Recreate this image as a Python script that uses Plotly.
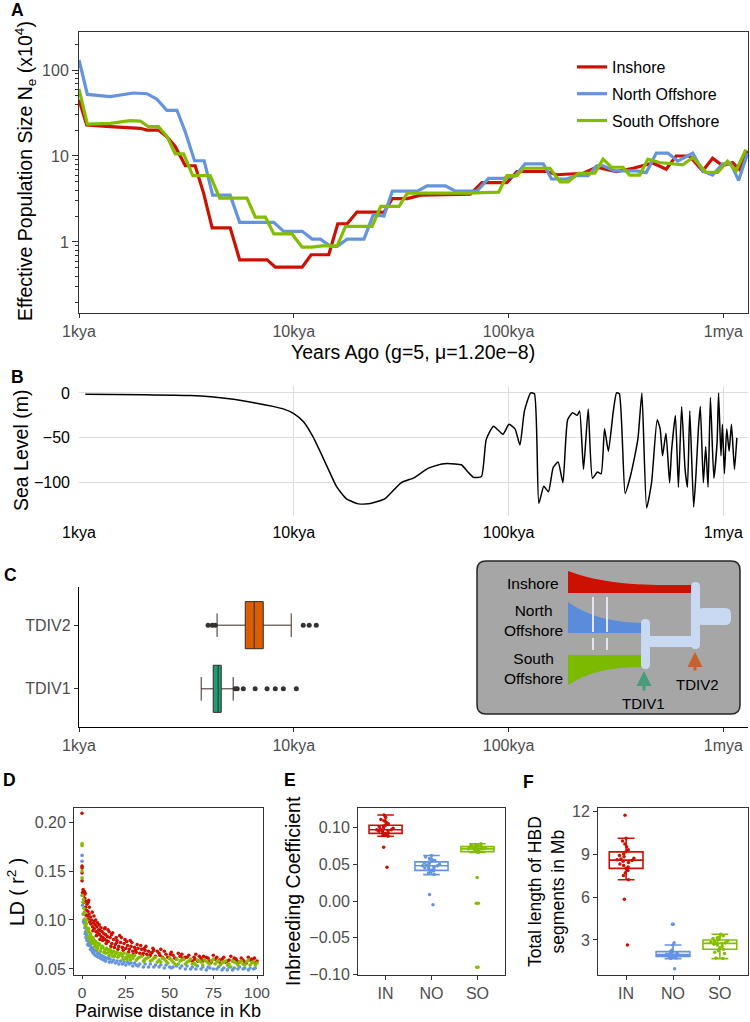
import plotly.graph_objects as go

W, H = 750, 1022
FONT = "Liberation Sans, Arial, Helvetica, sans-serif"
TICKC = "#4D4D4D"
C_IN, C_NO, C_SO = "#CC1100", "#6495DC", "#84BD00"
TF = 16      # tick label size
AT = 19.5    # axis title size

# ---------------- Panel A : PSMC effective population size (x10^4) ----------------
psmc_labels = ["Inshore", "North Offshore", "South Offshore"]
ne_in_years = [1000, 1086, 1396, 1928, 2070, 2344, 2564, 2805, 3126, 3475, 3802, 4169, 5058, 5598,
               7516, 8204, 10940, 12050, 14550, 16030, 17740, 19680, 25350, 26300, 28770, 33810,
               38900, 66370, 75160, 98170, 109400, 150700, 167500, 222800, 257000, 317700, 380200,
               469900, 542000, 602600, 695000, 801700, 891300, 993100, 1104000, 1186000, 1297000]
ne_in_vals = [45, 23, 22, 21, 20, 20, 16.8, 12.9, 7.7, 7.7, 3.7, 1.46, 1.46, 0.62,
              0.62, 0.51, 0.51, 0.71, 0.71, 1.63, 1.63, 2.23, 2.23, 2.2, 3.2, 3.2,
              3.5, 3.6, 4.9, 4.9, 6.6, 6.6, 6.05, 6.3, 7.4, 6.6, 7.2,
              8.3, 7.0, 10, 10, 6.7, 9.4, 7.7, 8.4, 7.0, 11.5]
ne_no_years = [1000, 1094, 1396, 1791, 2070, 2301, 2564, 2858, 3126, 3451, 3828, 4188, 5058, 5598,
               8072, 8974, 10940, 12190, 13300, 14830, 15920, 17740, 21230, 23440, 26300, 28770,
               37580, 41780, 50820, 56620, 71290, 80720, 94840, 107400, 119400, 145200, 158500,
               186200, 207500, 235000, 257000, 275400, 312600, 393600, 437500, 487500, 552100,
               613800, 721100, 801700, 891300, 993100, 1086000, 1178000, 1297000]
ne_no_vals = [131, 52, 49, 54, 53, 46, 34, 34, 19, 8.8, 8.8, 3.5, 3.5, 1.69,
              1.69, 1.33, 1.33, 1.08, 1.08, 0.89, 0.89, 1.08, 1.08, 2.07, 2.0, 3.9,
              3.9, 4.5, 4.5, 3.9, 3.9, 5.5, 5.5, 5.9, 8.1, 8.1, 5.4,
              5.4, 5.9, 5.9, 7.7, 7.7, 6.7, 6.7, 6.4, 10.8, 10.8,
              8.7, 10.8, 6.7, 6.0, 8.1, 8.1, 5.2, 10.8]
ne_so_years = [1000, 1094, 1396, 1730, 1928, 2104, 2344, 2564, 2805, 3069, 3388, 4083, 4519, 6053,
               6622, 7379, 8072, 9817, 10940, 12190, 13550, 15920, 17420, 23170, 25410, 30900,
               33810, 64120, 89950, 98170, 109400, 117500, 156000, 173800, 189700, 211300, 252300,
               275400, 301300, 341200, 366400, 408300, 445700, 504700, 647100, 721100, 831800,
               941900, 1047000, 1146000, 1274000]
ne_so_vals = [60, 23.5, 24, 25.8, 25.5, 22, 22, 17, 10.6, 10.6, 5.9, 5.9, 3.24, 3.24,
              1.95, 1.95, 1.24, 1.24, 0.87, 0.87, 0.9, 0.9, 1.52, 1.52, 2.6, 2.6,
              3.7, 3.7, 3.8, 5.9, 5.9, 7.2, 7.2, 5.0, 5.0, 6.3, 6.3,
              9.2, 7.4, 7.4, 6.0, 6.0, 9.2, 8.4, 7.9, 9.6, 6.45,
              6.45, 8.7, 6.7, 11.9]

time_tickvals = [1000, 10000, 100000, 1000000]
time_ticktext = ["1kya", "10kya", "100kya", "1mya"]

# ---------------- Panel B : sea level (m) ----------------
sl_years = [1070, 2000, 3300, 5000, 6900, 8000, 9000, 10000, 11100, 12300, 14300, 15800, 17600,
            20000, 22700, 26500, 31600, 36300, 42200, 49000, 56200, 60300, 65300, 68700, 74800,
            78700, 85100, 94200, 100500, 107200, 113000, 118600, 126800, 132000, 138400, 146000,
            153500, 161400, 170200, 179100, 188400, 198600, 208900, 214300, 223400, 235000,
            246000, 259400, 269800, 279900, 291700, 306900, 318400, 328100, 349100, 367300,
            387300, 400900, 417800, 439500, 463400, 492000, 508200, 521200, 540800, 562300,
            574100, 598400, 618000, 639700, 663700, 680800, 698200, 727800, 746400, 765600,
            781600, 807200, 827900, 849200, 871000, 903600, 935400, 950600, 975000, 990800,
            1011600, 1037600, 1064100, 1091400, 1127200, 1156100]
sl_m = [-1.5, -2, -3, -6.5, -12, -15, -18, -23, -32, -49, -82, -104, -118,
        -123.5, -123, -118, -100, -94.5, -84, -79, -79, -80, -89, -94, -93,
        -52, -37, -46, -35, -40, -58, -20, 0, -1, -123, -104,
        -110, -83, -77, -100, -30, -22, -25, -20, -85, -18,
        -95, -88, -90, -40, -65, -22, 0, -1, -112, -95,
        -70, -50, 0, -128, -100, -30, -40, -70, -45, -100,
        -65, -25, -105, -15, -85, -105, -20, -127, -90, -40,
        -15, -100, -60, -105, -5, -95, -55, 0, -70, -35,
        -90, -40, -65, -35, -85, -50]

# ---------------- Panel C : divergence times ----------------
tdiv_names = ["TDIV2", "TDIV1"]
tdiv_colors = ["#D95F02", "#1B9E77"]
tdiv_q1 = [5945, 4217]
tdiv_median = [6545, 4446]
tdiv_q3 = [7210, 4594]
tdiv_low = [4395, 3707]
tdiv_high = [9730, 5223]
tdiv2_outliers = [3990, 4170, 4305, 11070, 11800, 12730]
tdiv1_outliers = [5335, 5455, 5820, 6610, 7510, 8200, 8940, 10280]

# ---------------- Panel D : LD decay (distance kb, r2) ----------------
ld_in = [(0, 0.209), (0, 0.155), (0, 0.153), (0, 0.148), (0, 0.140), (0.3, 0.128), (0.6, 0.131),
         (1, 0.125), (1, 0.118), (1.3, 0.129), (1.6, 0.122), (2, 0.113), (2, 0.119), (2.4, 0.110),
         (2.8, 0.116), (3, 0.104), (3.3, 0.109), (3.6, 0.101), (4, 0.106), (4.4, 0.098), (4.8, 0.103),
         (5, 0.096), (5.5, 0.100), (6, 0.093), (6.5, 0.097), (7, 0.091), (7.5, 0.095), (8, 0.088),
         (8.5, 0.093), (9, 0.087), (9.5, 0.090), (10, 0.085), (10.5, 0.089), (11, 0.083), (11.5, 0.088),
         (12, 0.082), (12.5, 0.086), (13, 0.080), (13.5, 0.085), (14, 0.079), (14.5, 0.083), (15, 0.078),
         (16, 0.082), (17, 0.076), (18, 0.080), (19, 0.075), (20, 0.079), (21, 0.073), (22, 0.077),
         (23, 0.072), (24, 0.076), (25, 0.071), (26, 0.074), (27, 0.070), (28, 0.073), (29, 0.068),
         (30, 0.072), (31, 0.067), (32, 0.071), (33, 0.066), (34, 0.070), (35, 0.066), (36, 0.069),
         (37, 0.065), (38, 0.068), (39, 0.064), (40, 0.067), (42, 0.063), (44, 0.066), (46, 0.062),
         (48, 0.065), (50, 0.061), (52, 0.064), (54, 0.060), (56, 0.063), (58, 0.060), (60, 0.062),
         (62, 0.059), (64, 0.062), (66, 0.058), (68, 0.061), (70, 0.059), (72, 0.061), (74, 0.057),
         (76, 0.060), (78, 0.058), (80, 0.060), (82, 0.057), (84, 0.059), (86, 0.058), (88, 0.060),
         (90, 0.057), (92, 0.059), (94, 0.056), (96, 0.059), (98, 0.057), (100, 0.058),
         (15.5, 0.088), (21.5, 0.084), (27.5, 0.079), (33.5, 0.074), (45, 0.070), (55, 0.066),
         (65, 0.065), (75, 0.064), (85, 0.063), (95, 0.062), (7.2, 0.099), (19.5, 0.082), (41, 0.069),
         (3.5, 0.118), (4.2, 0.113), (5.8, 0.108), (6.8, 0.104), (7.8, 0.100), (8.8, 0.097),
         (9.8, 0.095), (10.8, 0.092), (11.8, 0.079), (12.8, 0.091), (13.8, 0.076), (14.8, 0.090),
         (16.5, 0.073), (17.5, 0.087), (18.5, 0.072), (20.5, 0.070), (22.5, 0.082), (23.5, 0.069),
         (24.5, 0.080), (26.5, 0.067), (28.5, 0.077), (29.5, 0.065), (31.5, 0.075), (34.5, 0.064),
         (36.5, 0.073), (38.5, 0.063), (40.5, 0.071), (43, 0.068), (47, 0.068), (49, 0.062),
         (51, 0.067), (53, 0.061), (57, 0.065), (59, 0.062), (61, 0.064), (63, 0.058), (67, 0.063),
         (69, 0.058), (71, 0.062), (73, 0.058), (77, 0.062), (79, 0.056), (81, 0.062), (83, 0.058),
         (87, 0.061), (89, 0.056), (91, 0.061), (93, 0.057), (97, 0.060), (99, 0.056), (2.2, 0.105),
         (1.8, 0.127), (3.8, 0.120), (6.2, 0.089), (8.2, 0.084), (10.2, 0.080), (13.2, 0.092),
         (16.8, 0.085), (19.8, 0.077), (25.5, 0.078), (30.5, 0.069), (35.5, 0.071), (39.5, 0.066),
         (44.5, 0.064), (50.5, 0.065), (57.5, 0.061), (64.5, 0.060), (69.5, 0.063), (78.5, 0.059),
         (88.5, 0.058), (98.5, 0.061)]
ld_no = [(0, 0.166), (0, 0.160), (0, 0.125), (0.3, 0.115), (0.6, 0.106), (1, 0.100), (1.3, 0.097),
         (1.6, 0.092), (2, 0.088), (2.5, 0.085), (3, 0.082), (3.5, 0.079), (4, 0.077), (4.5, 0.075),
         (5, 0.073), (6, 0.071), (7, 0.069), (8, 0.068), (9, 0.066), (10, 0.065), (11, 0.064),
         (12, 0.063), (13, 0.062), (14, 0.061), (15, 0.061), (16, 0.060), (18, 0.059), (20, 0.058),
         (22, 0.058), (24, 0.057), (26, 0.057), (28, 0.056), (30, 0.056), (33, 0.055), (36, 0.055),
         (39, 0.055), (42, 0.054), (45, 0.054), (48, 0.054), (51, 0.051), (54, 0.053), (57, 0.053),
         (60, 0.053), (63, 0.052), (66, 0.053), (69, 0.052), (72, 0.052), (75, 0.050), (78, 0.052),
         (81, 0.051), (84, 0.052), (87, 0.051), (90, 0.052), (93, 0.051), (96, 0.051), (99, 0.051),
         (3.2, 0.075), (6.5, 0.066), (11.5, 0.060), (17, 0.057), (23, 0.055), (31, 0.054),
         (41, 0.052), (52, 0.052), (62, 0.050), (73, 0.051), (83, 0.049), (92, 0.050),
         (0.8, 0.098), (1.8, 0.086), (2.2, 0.082), (2.8, 0.079), (3.8, 0.074), (4.8, 0.070),
         (5.5, 0.069), (6.2, 0.067), (7.5, 0.064), (8.5, 0.063), (9.5, 0.062), (10.5, 0.061),
         (12.5, 0.059), (13.5, 0.058), (15.5, 0.057), (19, 0.056), (21, 0.055), (25, 0.054),
         (27, 0.055), (29, 0.053), (32, 0.053), (35, 0.052), (38, 0.052), (44, 0.052), (47, 0.051),
         (50, 0.052), (56, 0.051), (59, 0.050), (65, 0.050), (68, 0.050), (71, 0.049), (77, 0.050),
         (80, 0.049), (86, 0.049), (89, 0.050), (95, 0.049), (98, 0.050)]
ld_so = [(0, 0.178), (0, 0.176), (0, 0.150), (0, 0.143), (0.3, 0.125), (0.6, 0.118), (1, 0.112),
         (1, 0.106), (1.3, 0.108), (1.6, 0.101), (2, 0.098), (2, 0.094), (2.4, 0.096), (2.8, 0.090),
         (3, 0.092), (3.5, 0.087), (4, 0.088), (4.5, 0.083), (5, 0.084), (5.5, 0.080), (6, 0.081),
         (6.5, 0.077), (7, 0.079), (7.5, 0.075), (8, 0.077), (9, 0.073), (10, 0.075), (11, 0.071),
         (12, 0.072), (13, 0.069), (14, 0.071), (15, 0.067), (16, 0.070), (17, 0.066), (18, 0.068),
         (19, 0.065), (20, 0.067), (21, 0.064), (22, 0.066), (23, 0.063), (24, 0.066), (25, 0.062),
         (26, 0.065), (27, 0.062), (28, 0.064), (29, 0.061), (30, 0.064), (32, 0.061), (34, 0.063),
         (36, 0.060), (38, 0.062), (40, 0.059), (42, 0.062), (44, 0.059), (46, 0.061), (48, 0.058),
         (50, 0.061), (52, 0.057), (54, 0.060), (56, 0.058), (58, 0.060), (60, 0.057), (62, 0.060),
         (64, 0.056), (66, 0.059), (68, 0.057), (70, 0.059), (72, 0.056), (74, 0.058), (76, 0.055),
         (78, 0.058), (80, 0.056), (82, 0.058), (84, 0.055), (86, 0.058), (88, 0.056), (90, 0.057),
         (92, 0.055), (94, 0.057), (96, 0.054), (98, 0.057), (100, 0.056),
         (5.2, 0.077), (8.5, 0.071), (12.5, 0.067), (18.5, 0.063), (25.5, 0.060), (35, 0.058),
         (45, 0.057), (55, 0.055), (65, 0.054), (75, 0.060), (85, 0.052), (95, 0.059),
         (0.8, 0.121), (1.8, 0.095), (2.6, 0.100), (3.3, 0.083), (3.8, 0.091), (4.3, 0.080),
         (4.8, 0.086), (5.7, 0.076), (6.3, 0.082), (7.3, 0.073), (7.8, 0.078), (8.8, 0.070),
         (9.5, 0.076), (10.5, 0.068), (11.5, 0.073), (13.5, 0.066), (14.5, 0.070), (15.5, 0.064),
         (16.5, 0.068), (17.5, 0.063), (19.5, 0.067), (20.5, 0.062), (22.5, 0.065), (23.5, 0.060),
         (26.5, 0.063), (27.5, 0.059), (29.5, 0.063), (31, 0.059), (33, 0.062), (35.5, 0.058),
         (37, 0.061), (39, 0.058), (41, 0.061), (43, 0.057), (47, 0.060), (49, 0.056), (51, 0.059),
         (53, 0.055), (57, 0.059), (59, 0.055), (61, 0.058), (63, 0.055), (67, 0.058), (69, 0.054),
         (71, 0.058), (73, 0.055), (77, 0.057), (79, 0.054), (81, 0.057), (83, 0.054), (87, 0.057),
         (89, 0.054), (91, 0.058), (93, 0.054), (97, 0.056), (99, 0.054)]

# ---------------- Panel E : inbreeding coefficient ----------------
pop_codes = ["IN", "NO", "SO"]
fis_in = [0.117, 0.114, 0.111, 0.109, 0.107, 0.105, 0.103, 0.102, 0.101, 0.100, 0.099, 0.098, 0.097,
          0.097, 0.096, 0.096, 0.095, 0.094, 0.093, 0.092, 0.091, 0.090, 0.089, 0.088, 0.073, 0.046]
fis_no = [0.062, 0.060, 0.058, 0.056, 0.055, 0.054, 0.053, 0.052, 0.051, 0.050, 0.049, 0.048, 0.048,
          0.047, 0.046, 0.045, 0.044, 0.043, 0.042, 0.041, 0.040, 0.038, 0.036, 0.009, -0.005]
fis_so = [0.078, 0.077, 0.076, 0.076, 0.075, 0.075, 0.074, 0.074, 0.073, 0.073, 0.072, 0.072, 0.072,
          0.071, 0.071, 0.070, 0.070, 0.069, 0.069, 0.068, 0.067, 0.066, 0.032, -0.003, -0.003,
          -0.090, -0.090]

# ---------------- Panel F : total HBD length (Mb) ----------------
hbd_in = [11.7, 10.1, 9.9, 9.7, 9.5, 9.3, 9.15, 9.0, 8.9, 8.8, 8.7, 8.65, 8.6, 8.55, 8.5, 8.4, 8.3,
          8.2, 8.1, 8.0, 7.85, 7.7, 7.5, 7.2, 5.85, 2.65]
hbd_no = [4.1, 4.1, 2.8, 2.65, 2.3, 2.2, 2.15, 2.1, 2.05, 2.0, 2.0, 1.98, 1.95, 1.95, 1.9, 1.9, 1.88,
          1.85, 1.85, 1.8, 1.75, 1.7, 1.0]
hbd_so = [3.4, 3.3, 3.2, 3.15, 3.1, 3.0, 2.95, 2.9, 2.85, 2.8, 2.78, 2.75, 2.7, 2.65, 2.55, 2.45,
          2.35, 2.25, 2.15, 2.05, 1.75, 1.7]


# ---------------- helpers ----------------
def xd(l, r):
    return [l / W, r / W]


def yd(t, b):
    return [1 - b / H, 1 - t / H]


def px(x):
    return x / W


def py(y):
    return 1 - y / H


def tickfont(size=TF, color=TICKC):
    return dict(size=size, color=color, family=FONT)


def framed(**kw):
    base = dict(showline=True, mirror=True, linecolor="#333333", linewidth=1, ticks="outside",
                ticklen=4, tickcolor="#333333", tickfont=tickfont(), showgrid=False,
                zeroline=False, automargin=False)
    base.update(kw)
    return base


fig = go.Figure()

# Panel A traces
for lab, xs, ys, col in zip(psmc_labels, [ne_in_years, ne_no_years, ne_so_years],
                            [ne_in_vals, ne_no_vals, ne_so_vals], [C_IN, C_NO, C_SO]):
    fig.add_trace(go.Scatter(x=xs, y=ys, mode="lines", name=lab, legendgroup=lab,
                             line=dict(color=col, width=3.2), xaxis="x", yaxis="y"))

# Panel B
fig.add_trace(go.Scatter(x=sl_years, y=sl_m, mode="lines", showlegend=False,
                         line=dict(color="black", width=1.5, shape="spline", smoothing=0.5),
                         xaxis="x2", yaxis="y2"))

# Panel C
for i, name in enumerate(tdiv_names):
    fig.add_trace(go.Box(y=[name], q1=[tdiv_q1[i]], median=[tdiv_median[i]], q3=[tdiv_q3[i]],
                         lowerfence=[tdiv_low[i]], upperfence=[tdiv_high[i]], orientation="h",
                         fillcolor=tdiv_colors[i], line=dict(color="#3B2A20", width=1),
                         width=0.74, boxpoints=False, showlegend=False, xaxis="x3", yaxis="y3"))
for name, outs in zip(tdiv_names, [tdiv2_outliers, tdiv1_outliers]):
    fig.add_trace(go.Scatter(x=outs, y=[name] * len(outs), mode="markers", showlegend=False,
                             marker=dict(color="#333333", size=5), xaxis="x3", yaxis="y3"))

# Panel D
for pts, col in zip([ld_in, ld_no, ld_so], [C_IN, C_NO, C_SO]):
    fig.add_trace(go.Scatter(x=[p[0] for p in pts], y=[p[1] for p in pts], mode="markers",
                             showlegend=False, marker=dict(color=col, size=3.6),
                             xaxis="x4", yaxis="y4"))

# Panels E and F
for vals_list, ax in [([fis_in, fis_no, fis_so], ("x5", "y5")), ([hbd_in, hbd_no, hbd_so], ("x6", "y6"))]:
    for code, vals, col in zip(pop_codes, vals_list, [C_IN, C_NO, C_SO]):
        fig.add_trace(go.Box(x=[code] * len(vals), y=vals, boxpoints="all", jitter=0.55, pointpos=0,
                             marker=dict(color=col, size=3.5), line=dict(color=col, width=1.6),
                             fillcolor="rgba(255,255,255,0.55)", width=0.72, showlegend=False,
                             xaxis=ax[0], yaxis=ax[1]))

time_range = [3, 6.115]
minor_a = [0.2, 0.3, 0.4, 0.5, 0.6, 0.7, 0.8, 0.9, 2, 3, 4, 5, 6, 7, 8, 9,
           20, 30, 40, 50, 60, 70, 80, 90, 200]

layout = dict(
    width=W, height=H, margin=dict(l=0, r=0, t=0, b=0), template="none",
    paper_bgcolor="white", plot_bgcolor="white", font=dict(family=FONT, color="black"),
    boxmode="overlay",
    legend=dict(x=572 / W, y=1 - 50 / H, xanchor="left", yanchor="top",
                font=dict(size=16, family=FONT, color="black"), bgcolor="rgba(0,0,0,0)",
                tracegroupgap=3),
    # A
    xaxis=framed(domain=xd(79, 748), anchor="y", type="log", range=time_range,
                 tickmode="array", tickvals=time_tickvals, ticktext=time_ticktext),
    yaxis=framed(domain=yd(32, 313), anchor="x", type="log", range=[-0.826, 2.442],
                 tickmode="array", tickvals=[1, 10, 100], ticktext=["1", "10", "100"], ticklen=6,
                 minor=dict(ticks="outside", ticklen=3, tickcolor="#333333", tickmode="array",
                            tickvals=minor_a, showgrid=False)),
    # B
    xaxis2=dict(domain=xd(79, 748), anchor="y2", type="log", range=time_range, tickmode="array",
                tickvals=time_tickvals, ticktext=time_ticktext, showline=False, ticks="",
                showgrid=True, gridcolor="#DEDEDE", gridwidth=1.2, zeroline=False,
                tickfont=tickfont(color="black"), automargin=False, ticklabelstandoff=5),
    yaxis2=dict(domain=yd(386, 516), anchor="x2", range=[-137, 7.7], tickmode="array",
                tickvals=[0, -50, -100], showline=False, ticks="", showgrid=True,
                gridcolor="#DEDEDE", gridwidth=1.2, zeroline=False,
                tickfont=tickfont(color="black"), automargin=False, ticklabelstandoff=8),
    # C
    xaxis3=dict(domain=xd(79, 748), anchor="y3", type="log", range=time_range, tickmode="array",
                tickvals=time_tickvals, ticktext=time_ticktext, showline=True, linecolor="black",
                linewidth=1.4, ticks="outside", ticklen=4, tickcolor="#333333", showgrid=False,
                zeroline=False, tickfont=tickfont(), automargin=False),
    yaxis3=dict(domain=yd(587, 727), anchor="x3", type="category",
                categoryorder="array", categoryarray=["TDIV1", "TDIV2"], range=[-0.6, 1.6],
                showline=True, linecolor="black", linewidth=1.4, ticks="outside", ticklen=4,
                tickcolor="#333333", showgrid=False, zeroline=False, tickfont=tickfont(),
                automargin=False),
    # D
    xaxis4=framed(domain=xd(74, 263), anchor="y4", range=[-4.6, 103.4], tickmode="array",
                  tickvals=[0, 25, 50, 75, 100], ticklen=3, tickfont=tickfont(size=15.5)),
    yaxis4=framed(domain=yd(808, 975), anchor="x4", range=[0.0438, 0.2144], tickmode="array",
                  tickvals=[0.05, 0.10, 0.15, 0.20], ticktext=["0.05", "0.10", "0.15", "0.20"]),
    # E
    xaxis5=framed(domain=xd(358, 505), anchor="y5", type="category", categoryorder="array",
                  categoryarray=pop_codes, range=[-0.6, 2.6]),
    yaxis5=framed(domain=yd(808, 975), anchor="x5", range=[-0.1005, 0.1265], tickmode="array",
                  tickvals=[-0.10, -0.05, 0.0, 0.05, 0.10],
                  ticktext=["\u22120.10", "\u22120.05", "0.00", "0.05", "0.10"]),
    # F
    xaxis6=framed(domain=xd(598, 748), anchor="y6", type="category", categoryorder="array",
                  categoryarray=pop_codes, range=[-0.6, 2.6]),
    yaxis6=framed(domain=yd(808, 975), anchor="x6", range=[0.557, 12.21], tickmode="array",
                  tickvals=[3, 6, 9, 12]),
)
fig.update_layout(**layout)

ann = []


def text(x, y, s, size=AT, angle=0, bold=False, color="black", xanchor="center", align="center",
         yanchor="middle"):
    ann.append(dict(x=px(x), y=py(y), xref="paper", yref="paper", text=("<b>%s</b>" % s) if bold else s,
                    showarrow=False, textangle=angle, xanchor=xanchor, yanchor=yanchor, align=align,
                    borderpad=0, font=dict(size=size, color=color, family=FONT)))


# panel letters
for lab, x, y in [("A", 17, 10), ("B", 17, 377), ("C", 10, 575), ("D", 9, 780), ("E", 290, 780),
                  ("F", 528, 782)]:
    text(x, y, lab, size=17.5, bold=True)

# axis titles
text(25, 171, "Effective Population Size N<sub>e</sub> (x10<sup>4</sup>)", angle=-90)
text(413, 352, "Years Ago (g=5, \u03bc=1.20e\u22128)")
text(21, 451, "Sea Level (m)", angle=-90)
text(16, 892, "LD ( r<sup>2</sup> )", angle=-90)
text(168, 1021.5, "Pairwise distance in Kb", size=18, yanchor="bottom")
text(293, 891, "Inbreeding Coefficient", angle=-90)
text(546, 892, "Total length of HBD<br>segments in Mb", size=17.5, angle=-90)

# ---------------- inset schematic ----------------
shapes = []


def P(x, y):
    return "%.5f,%.5f" % (px(x), py(y))


def rrect(x0, y0, x1, y1, r):
    return ("M %s L %s Q %s %s L %s Q %s %s L %s Q %s %s L %s Q %s %s Z" % (
        P(x0 + r, y0), P(x1 - r, y0), P(x1, y0), P(x1, y0 + r), P(x1, y1 - r), P(x1, y1),
        P(x1 - r, y1), P(x0 + r, y1), P(x0, y1), P(x0, y1 - r), P(x0, y0 + r), P(x0, y0),
        P(x0 + r, y0)))


def add_path(path, fill, line="rgba(0,0,0,0)", lw=0):
    shapes.append(dict(type="path", path=path, xref="paper", yref="paper", fillcolor=fill,
                       line=dict(color=line, width=lw), layer="above"))


add_path(rrect(477, 561, 740, 714, 9), "#A6A6A6", "#262626", 1.5)
# population tubes
add_path("M %s L %s C %s %s %s L %s L %s Z" % (P(568, 593), P(568, 571), P(595, 581), P(625, 585),
                                                P(665, 585), P(693, 585), P(693, 593)), C_IN)
add_path("M %s L %s C %s %s %s L %s Z" % (P(568, 633), P(568, 602), P(588, 616), P(610, 622),
                                          P(643, 623), P(643, 633)), "#5B8BDB")
add_path("M %s L %s L %s C %s %s %s Z" % (P(568, 655), P(643, 655), P(643, 667), P(612, 667),
                                          P(588, 672), P(568, 685)), "#7CBA00")
# ancestral connectors
CONN = "#C9D9F2"
add_path(rrect(641, 619, 650, 669, 4.5), CONN)
add_path(rrect(648, 636, 697, 647, 0.5), CONN)
add_path(rrect(691, 582, 700, 649, 4.5), CONN)
add_path(rrect(697, 608, 731, 625, 6), CONN)
# migration marks
for xm in (593, 607):
    for y0, y1 in ((597, 632), (638, 650)):
        shapes.append(dict(type="line", xref="paper", yref="paper", x0=px(xm), x1=px(xm),
                           y0=py(y0), y1=py(y1), line=dict(color="#E4E4F2", width=2), layer="above"))

text(533, 583, "Inshore", size=15.5)
text(533, 620, "North<br>Offshore", size=15.5)
text(533, 668, "South<br>Offshore", size=15.5)
text(643, 703, "TDIV1", size=15)
text(697, 684, "TDIV2", size=15)
ann.append(dict(x=px(644), y=py(671), xref="paper", yref="paper", ax=0, ay=21, text="",
                showarrow=True, arrowhead=2, arrowsize=1, arrowwidth=3, arrowcolor="#4A9A7C"))
ann.append(dict(x=px(695), y=py(652), xref="paper", yref="paper", ax=0, ay=20, text="",
                showarrow=True, arrowhead=2, arrowsize=1, arrowwidth=3, arrowcolor="#C6622E"))

fig.update_layout(annotations=ann, shapes=shapes)
fig.write_html("out.html", config={"displayModeBar": False},
               post_script="document.body.style.margin='0';document.body.style.overflow='hidden';")
